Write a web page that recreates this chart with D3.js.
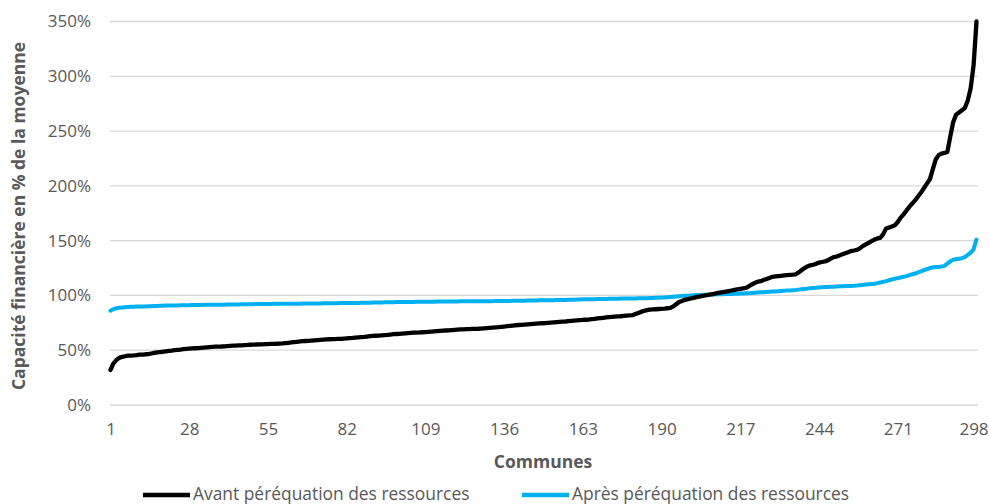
<!doctype html>
<html lang="fr">
<head>
<meta charset="utf-8">
<script src="https://d3js.org/d3.v7.min.js"></script>
<style>
    body { margin: 0; padding: 0; background: #fff; }
    text { font-family: "Open Sans", sans-serif; fill: #595959; }
    .grid line { stroke: #d9d9d9; stroke-width: 1.3px; }
    .line { fill: none; stroke-linejoin: round; stroke-linecap: round; }
</style>
</head>
<body>
<svg id="chart" width="989" height="504"></svg>
<script>
// tick labels
var xTicks = [1, 28, 55, 82, 109, 136, 163, 190, 217, 244, 271, 298];
var yTicks = [0, 50, 100, 150, 200, 250, 300, 350];

// capacité financière avant péréquation, communes 1..298 (%)
var avant = [
    32, 38, 41, 43, 44, 44.5, 45, 45, 45.2, 45.5,
    46, 46, 46.3, 46.5, 47, 47.5, 48, 48.3, 48.6, 49,
    49.3, 49.6, 50, 50.3, 50.6, 51, 51.2, 51.4, 51.6, 51.8,
    52, 52.2, 52.4, 52.6, 52.8, 53, 53.2, 53.3, 53.4, 53.6,
    53.8, 54, 54.1, 54.2, 54.4, 54.5, 54.7, 54.8, 55, 55.1,
    55.2, 55.3, 55.4, 55.5, 55.6, 55.7, 55.8, 55.9, 56, 56.2,
    56.5, 56.8, 57.1, 57.4, 57.7, 58, 58.2, 58.4, 58.6, 58.8,
    59, 59.2, 59.4, 59.6, 59.8, 60, 60.1, 60.2, 60.3, 60.4,
    60.6, 60.8, 61, 61.2, 61.5, 61.8, 62, 62.2, 62.5, 62.8,
    63, 63.2, 63.4, 63.6, 63.8, 64, 64.3, 64.6, 64.8, 65,
    65.2, 65.4, 65.6, 65.8, 66, 66.1, 66.2, 66.4, 66.6, 66.8,
    67, 67.2, 67.4, 67.6, 67.8, 68, 68.2, 68.4, 68.6, 68.8,
    69, 69.1, 69.2, 69.3, 69.4, 69.5, 69.6, 69.8, 70, 70.2,
    70.4, 70.6, 70.8, 71, 71.3, 71.6, 71.9, 72.2, 72.5, 72.8,
    73, 73.2, 73.4, 73.6, 73.8, 74, 74.2, 74.4, 74.6, 74.8,
    75, 75.2, 75.4, 75.6, 75.8, 76, 76.2, 76.5, 76.8, 77,
    77.2, 77.4, 77.6, 77.8, 78, 78.3, 78.6, 79, 79.3, 79.6,
    79.9, 80.2, 80.4, 80.6, 80.8, 81, 81.3, 81.6, 81.8, 82,
    83, 84, 85, 86, 86.5, 87, 87.2, 87.4, 87.6, 87.8,
    88, 88.3, 88.6, 90, 92, 94, 95, 96, 96.6, 97.2,
    97.8, 98.4, 99, 99.5, 100, 100.5, 101, 101.5, 102, 102.5,
    103, 103.5, 104, 104.5, 105, 105.5, 106, 106.5, 107, 108.5,
    110, 111.5, 112.5, 113, 114, 115, 116, 117, 117.3, 117.6,
    117.9, 118.2, 118.5, 118.8, 119, 119.3, 121, 123, 125, 126.5,
    127.5, 128, 129, 130, 130.5, 131, 132, 133.5, 135, 135.5,
    136.5, 137.5, 138.5, 139.5, 140.5, 141, 141.6, 143, 145, 146.5,
    148, 149.5, 151, 152, 152.6, 156, 161, 162, 163, 164,
    167, 171, 174, 177.5, 181, 184, 187, 190.5, 194, 198,
    202, 206, 215, 224, 228, 229.5, 230, 231, 245, 258,
    265, 267, 269, 271, 278, 289, 310, 350
];

// capacité financière après péréquation, communes 1..298 (%)
var apres = [
    86, 87.5, 88.3, 88.8, 89, 89.3, 89.5, 89.6, 89.7, 89.8,
    89.9, 90, 90, 90.1, 90.2, 90.3, 90.4, 90.5, 90.6, 90.7,
    90.8, 90.8, 90.9, 90.9, 91, 91, 91.1, 91.1, 91.2, 91.2,
    91.3, 91.3, 91.4, 91.4, 91.5, 91.5, 91.5, 91.6, 91.6, 91.6,
    91.7, 91.7, 91.7, 91.8, 91.8, 91.9, 91.9, 92, 92, 92,
    92.1, 92.1, 92.1, 92.2, 92.2, 92.2, 92.3, 92.3, 92.3, 92.4,
    92.4, 92.4, 92.5, 92.5, 92.5, 92.5, 92.6, 92.6, 92.6, 92.6,
    92.7, 92.7, 92.7, 92.8, 92.8, 92.8, 92.9, 92.9, 92.9, 93,
    93, 93, 93.1, 93.1, 93.2, 93.2, 93.3, 93.3, 93.4, 93.4,
    93.5, 93.5, 93.6, 93.6, 93.7, 93.7, 93.8, 93.8, 93.9, 94,
    94, 94, 94.1, 94.1, 94.1, 94.2, 94.2, 94.2, 94.3, 94.3,
    94.3, 94.3, 94.4, 94.4, 94.4, 94.4, 94.5, 94.5, 94.5, 94.5,
    94.6, 94.6, 94.6, 94.6, 94.7, 94.7, 94.7, 94.7, 94.8, 94.8,
    94.8, 94.8, 94.9, 94.9, 94.9, 95, 95, 95, 95.1, 95.1,
    95.2, 95.2, 95.2, 95.3, 95.3, 95.4, 95.4, 95.5, 95.5, 95.6,
    95.6, 95.7, 95.7, 95.8, 95.8, 95.9, 95.9, 96, 96, 96.1,
    96.2, 96.3, 96.4, 96.5, 96.5, 96.6, 96.6, 96.7, 96.7, 96.8,
    96.8, 96.9, 96.9, 97, 97, 97.1, 97.1, 97.2, 97.2, 97.3,
    97.3, 97.4, 97.4, 97.5, 97.5, 97.6, 97.7, 97.8, 97.9, 98,
    98.2, 98.4, 98.6, 98.8, 99, 99.2, 99.4, 99.6, 99.8, 100,
    100.2, 100.3, 100.4, 100.5, 100.6, 100.7, 100.8, 100.9, 101, 101,
    101.1, 101.2, 101.3, 101.4, 101.5, 101.6, 101.7, 101.8, 101.9, 102,
    102.2, 102.4, 102.6, 102.8, 103, 103.2, 103.4, 103.5, 103.6, 103.8,
    104, 104.2, 104.4, 104.6, 104.8, 105, 105.3, 105.6, 105.9, 106.2,
    106.5, 106.8, 107, 107.3, 107.5, 107.7, 107.8, 107.9, 108, 108.2,
    108.3, 108.4, 108.5, 108.6, 108.7, 108.8, 109, 109.3, 109.6, 109.9,
    110.2, 110.4, 110.6, 111.2, 111.8, 112.4, 113, 113.8, 114.5, 115.2,
    115.8, 116.4, 117, 117.6, 118.5, 119.3, 120, 121, 122, 123,
    124, 125, 125.5, 126, 126, 126.3, 127, 129, 131, 132.5,
    133, 133.5, 134, 135, 137, 139, 142, 151
];

var seriesNames = ["Avant péréquation des ressources", "Après péréquation des ressources"];
var seriesColors = ["#000000", "#00b0f0"];

var svg = d3.select("#chart");

var x = d3.scaleLinear().domain([1, 298]).range([110.5, 976.5]);
var y = d3.scaleLinear().domain([0, 350]).range([405, 21.5]);

// horizontal gridlines
svg.append("g").attr("class", "grid")
    .selectAll("line").data(yTicks).enter().append("line")
    .attr("x1", 110).attr("x2", 978)
    .attr("y1", function (d) { return y(d); })
    .attr("y2", function (d) { return y(d); });

// y axis labels
var yAxis = d3.axisLeft(y).tickValues(yTicks).tickSize(0).tickPadding(0)
    .tickFormat(function (d) { return d + "%"; });
svg.append("g").attr("transform", "translate(91,0)").call(yAxis)
    .call(function (g) { g.select(".domain").remove(); })
    .selectAll("text").style("font-size", "17px").attr("fill", "#595959");

// x axis labels (last one pulled in a bit so it stays inside the frame)
var xAxis = d3.axisBottom(x).tickValues(xTicks).tickSize(0).tickPadding(0);
svg.append("g").attr("transform", "translate(0,423)").call(xAxis)
    .call(function (g) { g.select(".domain").remove(); })
    .selectAll("text").style("font-size", "17px").attr("fill", "#595959")
    .attr("dx", function (d) { return d === 298 ? -3 : 0; });

// axis titles
svg.append("text")
    .attr("x", 543).attr("y", 468)
    .attr("text-anchor", "middle")
    .style("font-size", "17.5px").style("font-weight", "bold")
    .text("Communes");

svg.append("text")
    .attr("transform", "translate(25,216) rotate(-90)")
    .attr("text-anchor", "middle")
    .style("font-size", "17.5px").style("font-weight", "bold")
    .text("Capacité financière en % de la moyenne");

// lines
var line = d3.line()
    .x(function (d, i) { return x(i + 1); })
    .y(function (d) { return y(d); });

svg.append("path").datum(apres)
    .attr("class", "line")
    .attr("stroke", seriesColors[1])
    .attr("stroke-width", 4)
    .attr("d", line);

svg.append("path").datum(avant)
    .attr("class", "line")
    .attr("stroke", seriesColors[0])
    .attr("stroke-width", 4.3)
    .attr("d", line);

// legend
var legendX = [143, 522];
var legend = svg.append("g");
seriesNames.forEach(function (name, i) {
    legend.append("line")
        .attr("x1", legendX[i]).attr("x2", legendX[i] + 47)
        .attr("y1", 495).attr("y2", 495)
        .attr("stroke", seriesColors[i]).attr("stroke-width", 4.3);
    legend.append("text")
        .attr("x", legendX[i] + 50).attr("y", 500)
        .style("font-size", "17.4px")
        .text(name);
});
</script>
</body>
</html>
